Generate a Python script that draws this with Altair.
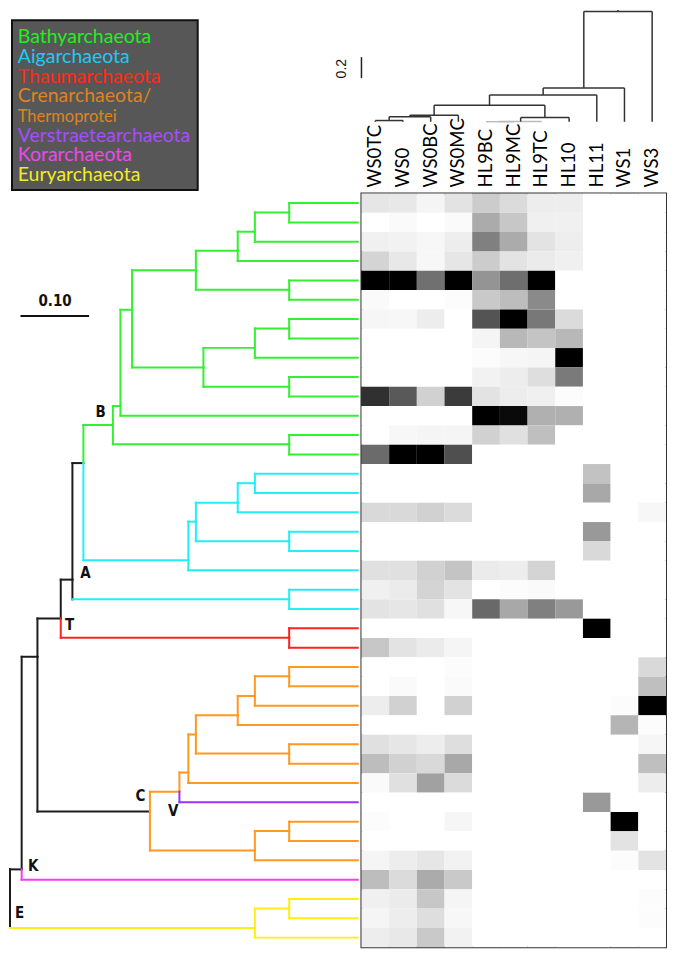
import altair as alt
import pandas as pd

# ------------------------------------------------------------------ data
samples = ["WS0TC", "WS0", "WS0BC", "WS0MC", "HL9BC", "HL9MC", "HL9TC", "HL10", "HL11", "WS1", "WS3"]

# relative abundance per sample (0 = white, 1 = black); rows follow the tree leaves top -> bottom
ab_WS0TC = [0.10, 0, 0.06, 0.17, 1, 0.02, 0.035, 0, 0, 0, 0.81, 0, 0, 0.58, 0, 0, 0.15, 0, 0, 0.12,
            0.06, 0.11, 0, 0.22, 0, 0, 0.07, 0, 0.12, 0.26, 0.02, 0, 0.01, 0, 0.04, 0.26, 0.06, 0.04, 0.07]
ab_WS0 = [0.09, 0.02, 0.05, 0.09, 1, 0, 0.03, 0, 0, 0, 0.65, 0, 0.03, 1, 0, 0, 0.15, 0, 0, 0.12,
          0.08, 0.10, 0, 0.11, 0, 0.02, 0.18, 0, 0.10, 0.18, 0.12, 0, 0, 0, 0.07, 0.14, 0.08, 0.07, 0.09]
ab_WS0BC = [0.04, 0, 0.03, 0.03, 0.56, 0, 0.07, 0, 0, 0, 0.18, 0, 0.04, 1, 0, 0, 0.18, 0, 0, 0.18,
            0.17, 0.12, 0, 0.08, 0, 0, 0, 0, 0.07, 0.15, 0.37, 0, 0, 0, 0.10, 0.33, 0.22, 0.13, 0.21]
ab_WS0MC = [0.11, 0.02, 0.07, 0.10, 1, 0.01, 0, 0, 0, 0, 0.77, 0, 0.04, 0.69, 0, 0, 0.14, 0, 0, 0.23,
            0.11, 0.03, 0, 0.04, 0.01, 0.02, 0.18, 0, 0.13, 0.34, 0.14, 0, 0.035, 0, 0.05, 0.21, 0.04, 0.03, 0.05]
ab_HL9BC = [0.20, 0.33, 0.50, 0.20, 0.42, 0.21, 0.67, 0.04, 0.01, 0.05, 0.11, 1, 0.18, 0, 0, 0, 0, 0, 0, 0.08,
            0, 0.59, 0, 0, 0, 0, 0, 0, 0, 0, 0, 0, 0, 0, 0, 0, 0, 0, 0]
ab_HL9MC = [0.14, 0.22, 0.33, 0.11, 0.57, 0.26, 1, 0.28, 0.03, 0.07, 0.07, 0.96, 0.12, 0, 0, 0, 0, 0, 0, 0.07,
            0.01, 0.34, 0, 0, 0, 0, 0, 0, 0, 0, 0, 0, 0, 0, 0, 0, 0, 0, 0]
ab_HL9TC = [0.07, 0.06, 0.11, 0.08, 1, 0.46, 0.53, 0.23, 0.04, 0.13, 0.06, 0.31, 0.25, 0, 0, 0, 0, 0, 0, 0.17,
            0.02, 0.50, 0, 0, 0, 0, 0, 0, 0, 0, 0, 0, 0, 0, 0, 0, 0, 0, 0]
ab_HL10 = [0.07, 0.06, 0.07, 0.06, 0, 0, 0.14, 0.28, 1, 0.52, 0.01, 0.31, 0, 0, 0, 0, 0, 0, 0, 0,
           0, 0.40, 0, 0, 0, 0, 0, 0, 0, 0, 0, 0, 0, 0, 0, 0, 0, 0, 0]
ab_HL11 = [0, 0, 0, 0, 0, 0, 0, 0, 0, 0, 0, 0, 0, 0, 0.24, 0.34, 0, 0.40, 0.15, 0,
           0, 0, 1, 0, 0, 0, 0, 0, 0, 0, 0, 0.40, 0, 0, 0, 0, 0, 0, 0]
ab_WS1 = [0, 0, 0, 0, 0, 0, 0, 0, 0, 0, 0, 0, 0, 0, 0, 0, 0, 0, 0, 0,
          0, 0, 0, 0, 0, 0, 0.01, 0.29, 0, 0, 0, 0, 1, 0.11, 0.01, 0, 0, 0, 0]
ab_WS3 = [0, 0, 0, 0, 0, 0, 0, 0, 0, 0, 0, 0, 0, 0, 0, 0, 0.03, 0, 0, 0,
          0, 0, 0, 0, 0.15, 0.25, 1, 0.01, 0.035, 0.25, 0.07, 0, 0, 0, 0.11, 0, 0.01, 0.01, 0]
abundance = [ab_WS0TC, ab_WS0, ab_WS0BC, ab_WS0MC, ab_HL9BC, ab_HL9MC, ab_HL9TC, ab_HL10, ab_HL11, ab_WS1, ab_WS3]

# sample dendrogram (top): merges of samples s# / earlier merges m#
merge_left = ["s0", "m0", "m1", "s4", "m3", "m4", "m2", "m6", "m7", "m8"]
merge_right = ["s1", "s2", "s3", "s5", "s6", "s7", "m5", "s8", "s9", "s10"]
merge_height = [0.012, 0.047, 0.063, 0.001, 0.002, 0.040, 0.157, 0.256, 0.322, 1.054]
merge_shade = ["#333333", "#333333", "#333333", "#bbbbbb", "#bbbbbb", "#333333", "#333333", "#333333", "#333333", "#333333"]

# phylogenetic tree: internal nodes (distance from root, vertical position in leaf rows)
node_name = ["root", "Kn", "Yn", "Y12", "N30", "T", "Cn", "P66", "Rp", "X", "c78", "B", "cy6", "n8", "g1314",
             "n7", "n4", "n6", "n3", "n56", "n2", "n1", "n5", "n1011", "n78", "cy5", "cy3", "c45", "c12",
             "V", "Olow", "o7n", "o6n", "o4n", "o56", "o3n", "o12", "o89"]
node_parent = [None, "root", "root", "Yn", "Kn", "N30", "N30", "T", "T", "P66", "P66", "X", "X", "B", "B",
               "n8", "n7", "n7", "n4", "n4", "n3", "n2", "n6", "n6", "n5", "cy6", "cy5", "cy5", "cy3",
               "Cn", "Cn", "V", "o7n", "o6n", "o6n", "o4n", "o3n", "Olow"]
node_dist = [0.0, 0.017, 0.357, 0.407, 0.040, 0.074, 0.204, 0.091, 0.407, 0.107, 0.407, 0.150, 0.260, 0.161, 0.407,
             0.178, 0.271, 0.282, 0.332, 0.407, 0.357, 0.407, 0.357, 0.407, 0.407, 0.271, 0.332, 0.407, 0.357,
             0.247, 0.357, 0.260, 0.271, 0.332, 0.407, 0.357, 0.407, 0.407]
node_row = [34.47, 34.47, 37.5, 36.49, 23.47, 21.49, 31.48, 19.48, 22.48, 13.45, 20.5, 11.48, 18.48, 10.5, 12.47,
            5.52, 3.47, 8.5, 2.47, 4.48, 1.48, 0.49, 7.49, 9.5, 6.49, 16.48, 15.5, 17.49, 14.49,
            30.45, 33.49, 29.46, 27.49, 26.5, 28.48, 25.5, 24.48, 32.48]
node_branch = ["K", "K", "Y", "Y", "K", "K", "K", "K", "R", "K", "C", "G", "C", "G", "G",
               "G", "G", "G", "G", "G", "G", "G", "G", "G", "G", "C", "C", "C", "C",
               "O", "O", "O", "O", "O", "O", "O", "O", "O"]
node_stem = ["K", "K", "K", "Y", "K", "K", "K", "K", "R", "K", "K", "G", "C", "G", "G",
             "G", "G", "G", "G", "G", "G", "G", "G", "G", "G", "C", "C", "C", "C",
             "O", "O", "O", "O", "O", "O", "O", "O", "O"]

leaf_tip = 0.507
leaf_parent = ["n1", "n1", "n2", "n3", "n56", "n56", "n78", "n78", "n5", "n1011", "n1011", "n8", "g1314", "g1314",
               "c12", "c12", "cy3", "c45", "c45", "cy6", "c78", "c78",
               "Rp", "Rp",
               "o12", "o12", "o3n", "o4n", "o56", "o56", "o7n", "V", "o89", "o89", "Olow",
               "Kn",
               "Y12", "Y12", "Yn"]
leaf_clade = ["G"] * 14 + ["C"] * 8 + ["R"] * 2 + ["O"] * 7 + ["P"] + ["O"] * 3 + ["M"] + ["Y"] * 3

clade_color = {"K": "#1c1c1c", "G": "#33f033", "C": "#22eef8", "R": "#ff2020", "O": "#ff9922",
               "P": "#9933ff", "M": "#f53cf5", "Y": "#ffee11"}

node_label = ["B", "A", "T", "C", "V", "K", "E"]
node_label_dist = [0.132, 0.110, 0.087, 0.190, 0.238, 0.034, 0.014]
node_label_row = [10.8, 19.13, 21.85, 30.67, 31.43, 34.3, 36.75]

legend_names = ["Bathyarchaeota", "Aigarchaeota", "Thaumarchaeota", "Crenarchaeota/", "Thermoprotei",
                "Verstraetearchaeota", "Korarchaeota", "Euryarchaeota"]
legend_colors = ["#22ee22", "#22c8f2", "#ff2a12", "#de8422", "#de8422", "#a64dff", "#ee48ee", "#f2ec22"]
legend_sizes = [19.5, 19.5, 19.5, 19.5, 16.5, 19.5, 19.5, 19.5]

# ------------------------------------------------------------------ layout sizes
TREE_W, HEAT_W = 352, 305
TOP_H, BODY_H = 184, 755
N_ROWS = len(leaf_parent)

# ------------------------------------------------------------------ tree segments
nodes = {}
for n, p, d, r, hc, vc in zip(node_name, node_parent, node_dist, node_row, node_branch, node_stem):
    nodes[n] = dict(p=p, d=d, r=r, hc=hc, vc=vc)
for i, (p, c) in enumerate(zip(leaf_parent, leaf_clade)):
    nodes[f"L{i}"] = dict(p=p, d=leaf_tip, r=i, hc=c, vc=c)

segs = []
for n, v in nodes.items():
    if v["p"] is None:
        continue
    par = nodes[v["p"]]
    segs.append(dict(x=par["d"], x2=v["d"], y=v["r"], y2=v["r"], c=clade_color[v["hc"]], k=v["hc"] != "K"))
    segs.append(dict(x=par["d"], x2=par["d"], y=par["r"], y2=v["r"], c=clade_color[v["vc"]], k=v["vc"] != "K"))
tree_df = pd.DataFrame(segs).sort_values("k", kind="stable")

tx = alt.Scale(domain=[0, 0.5124])
ty = alt.Scale(domain=[-0.5, N_ROWS - 0.5], reverse=True)

tree_lines = alt.Chart(tree_df).mark_rule(strokeWidth=2, strokeCap="square").encode(
    x=alt.X("x:Q", scale=tx, axis=None), x2="x2:Q",
    y=alt.Y("y:Q", scale=ty, axis=None), y2="y2:Q",
    color=alt.Color("c:N", scale=None),
)
lab_df = pd.DataFrame({"t": node_label, "x": node_label_dist, "y": node_label_row})
tree_labels = alt.Chart(lab_df).mark_text(
    font="Liberation Sans Narrow, DejaVu Sans Condensed, Liberation Sans", fontWeight="bold",
    fontSize=15, color="#111111", align="center", baseline="middle",
).encode(x=alt.X("x:Q", scale=tx, axis=None), y=alt.Y("y:Q", scale=ty, axis=None), text="t:N")

bar_df = pd.DataFrame({"x": [0.0153], "x2": [0.1153], "y": [5.84], "tx": [0.0657], "ty": [5.05], "t": ["0.10"]})
scale_rule = alt.Chart(bar_df).mark_rule(strokeWidth=2, color="#111111").encode(
    x=alt.X("x:Q", scale=tx, axis=None), x2="x2:Q", y=alt.Y("y:Q", scale=ty, axis=None))
scale_text = alt.Chart(bar_df).mark_text(
    font="Liberation Sans Narrow, DejaVu Sans Condensed, Liberation Sans", fontWeight="bold",
    fontSize=15, color="#111111", align="center", baseline="middle",
).encode(x=alt.X("tx:Q", scale=tx, axis=None), y=alt.Y("ty:Q", scale=ty, axis=None), text="t:N")

tree_panel = alt.layer(tree_lines, tree_labels, scale_rule, scale_text).properties(width=TREE_W, height=BODY_H)

# ------------------------------------------------------------------ heatmap
heat_rows = []
for j, s in enumerate(samples):
    for r, v in enumerate(abundance[j]):
        heat_rows.append(dict(sample=s, row=r, v=v))
heat_df = pd.DataFrame(heat_rows)
heat_panel = alt.Chart(heat_df).mark_rect().encode(
    x=alt.X("sample:N", sort=samples, axis=None, scale=alt.Scale(paddingInner=0, paddingOuter=0)),
    y=alt.Y("row:O", axis=None, scale=alt.Scale(paddingInner=0, paddingOuter=0)),
    color=alt.Color("v:Q", scale=alt.Scale(domain=[0, 1], range=["#ffffff", "#000000"], interpolate="rgb"),
                    legend=None),
).properties(width=HEAT_W, height=BODY_H, view=alt.ViewBackground(stroke="#333333", strokeWidth=2))

# ------------------------------------------------------------------ sample dendrogram
pos = {f"s{i}": (float(i), 0.0) for i in range(len(samples))}
dsegs = []
for k, (l, r, h, sh) in enumerate(zip(merge_left, merge_right, merge_height, merge_shade)):
    xl, hl = pos[l]
    xr, hr = pos[r]
    dsegs.append(dict(x=xl, x2=xl, h=hl, h2=h, c="#333333"))
    dsegs.append(dict(x=xr, x2=xr, h=hr, h2=h, c="#333333"))
    dsegs.append(dict(x=xl, x2=xr, h=h, h2=h, c=sh))
    pos[f"m{k}"] = ((xl + xr) / 2, h)
root_x, root_h = pos[f"m{len(merge_height) - 1}"]
dsegs.append(dict(x=root_x, x2=root_x, h=root_h, h2=root_h + 0.014, c="#333333"))
dendro_df = pd.DataFrame(dsegs)

PX_PER_UNIT = 104.9
H_HI = 1.07
dx = alt.Scale(domain=[-0.5, len(samples) - 0.5])
dy = alt.Scale(domain=[H_HI - TOP_H / PX_PER_UNIT, H_HI])

dendro_lines = alt.Chart(dendro_df).mark_rule(strokeWidth=1.5).encode(
    x=alt.X("x:Q", scale=dx, axis=None), x2="x2:Q",
    y=alt.Y("h:Q", scale=dy, axis=None), y2="h2:Q",
    color=alt.Color("c:N", scale=None),
)
col_df = pd.DataFrame({"sample": samples, "i": list(range(len(samples)))})
col_labels = alt.Chart(col_df).mark_text(
    font="Lato", fontSize=18.5, color="#000000", angle=270, align="left", baseline="middle",
).encode(x=alt.X("i:Q", scale=dx, axis=None), y=alt.value(178), text="sample:N")

dbar_df = pd.DataFrame({"x": [-0.5], "h": [0.417], "h2": [0.617], "tx": [-1.207], "th": [0.507], "t": ["0.2"]})
dbar_rule = alt.Chart(dbar_df).mark_rule(strokeWidth=1.5, color="#222222").encode(
    x=alt.X("x:Q", scale=dx, axis=None), y=alt.Y("h:Q", scale=dy, axis=None), y2="h2:Q")
dbar_text = alt.Chart(dbar_df).mark_text(
    font="Liberation Sans", fontSize=14, color="#111111", angle=270, align="center", baseline="middle",
).encode(x=alt.X("tx:Q", scale=dx, axis=None), y=alt.Y("th:Q", scale=dy, axis=None), text="t:N")

dendro_panel = alt.layer(dendro_lines, col_labels, dbar_rule, dbar_text).properties(width=HEAT_W, height=TOP_H)

# ------------------------------------------------------------------ clade legend box
leg_df = pd.DataFrame({"name": legend_names, "i": list(range(len(legend_names))),
                       "c": legend_colors, "s": legend_sizes})
ly = alt.Scale(domain=[-1.701, 7.640], reverse=True)
box = alt.Chart(pd.DataFrame({"a": [0]})).mark_rect(fill="#575757", stroke="#111111", strokeWidth=2).encode(
    x=alt.value(2), x2=alt.value(188), y=alt.value(10.6), y2=alt.value(180.6))
leg_text = alt.Chart(leg_df).mark_text(font="Lato", align="left", baseline="alphabetic").encode(
    x=alt.value(7.8),
    y=alt.Y("i:Q", scale=ly, axis=None),
    text="name:N",
    color=alt.Color("c:N", scale=None),
    size=alt.Size("s:Q", scale=None),
)
legend_panel = alt.layer(box, leg_text).properties(width=TREE_W, height=TOP_H)

# ------------------------------------------------------------------ assemble (2x2 grid)
chart = alt.concat(
    legend_panel, dendro_panel, tree_panel, heat_panel,
    columns=2, spacing=0, bounds="flush",
).properties(padding=0, background="#ffffff").configure_view(stroke=None)

chart.save("out.html", embed_options={"renderer": "svg", "actions": False})
